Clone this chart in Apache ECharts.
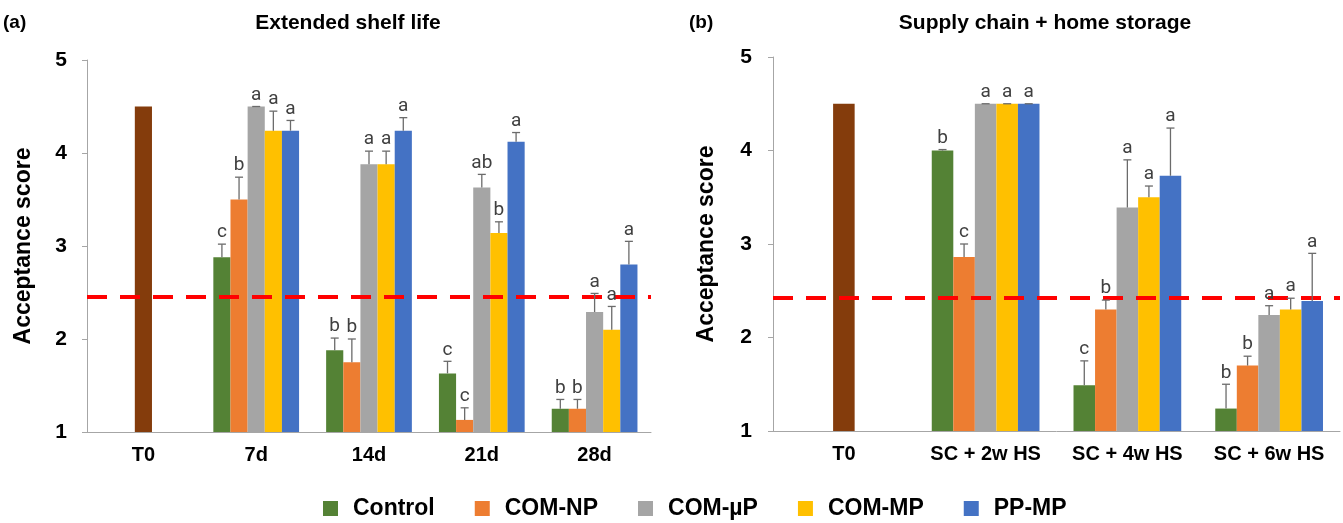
<!DOCTYPE html>
<html><head><meta charset="utf-8">
<script src="https://cdn.jsdelivr.net/npm/echarts@6/dist/echarts.min.js"></script>
<style>html,body{margin:0;padding:0;background:#fff}#c{width:1343px;height:523px}</style>
</head><body><div id="c"></div>
<script>
// ---------- data ----------
const seriesNames = ['Control', 'COM-NP', 'COM-\u00b5P', 'COM-MP', 'PP-MP'];
const seriesColors = ['#548235', '#ED7D31', '#A5A5A5', '#FFC000', '#4472C4'];
const t0Color = '#843C0C';

// Panel (a) Extended shelf life
const categoriesA = ['T0', '7d', '14d', '21d', '28d'];
const t0A = [4.5, '-', '-', '-', '-'];
const controlA = [null, 2.88, 1.88, 1.63, 1.25];
const comNPA   = [null, 3.50, 1.75, 1.13, 1.25];
const comUPA   = [null, 4.50, 3.88, 3.63, 2.29];
const comMPA   = [null, 4.24, 3.88, 3.14, 2.10];
const ppMPA    = [null, 4.24, 4.24, 4.12, 2.80];
const controlErrA = [null, 0.14, 0.13, 0.13, 0.10];
const comNPErrA   = [null, 0.24, 0.25, 0.13, 0.10];
const comUPErrA   = [null, 0.00, 0.14, 0.14, 0.20];
const comMPErrA   = [null, 0.21, 0.14, 0.12, 0.25];
const ppMPErrA    = [null, 0.11, 0.14, 0.10, 0.25];
const controlLetA = ['', 'c', 'b', 'c', 'b'];
const comNPLetA   = ['', 'b', 'b', 'c', 'b'];
const comUPLetA   = ['', 'a', 'a', 'ab', 'a'];
const comMPLetA   = ['', 'a', 'a', 'b', 'a'];
const ppMPLetA    = ['', 'a', 'a', 'a', 'a'];
const thresholdA = 2.45;

// Panel (b) Supply chain + home storage
const categoriesB = ['T0', 'SC + 2w HS', 'SC + 4w HS', 'SC + 6w HS'];
const t0B = [4.5, '-', '-', '-'];
const controlB = [null, 4.00, 1.49, 1.24];
const comNPB   = [null, 2.86, 2.30, 1.70];
const comUPB   = [null, 4.50, 3.39, 2.24];
const comMPB   = [null, 4.50, 3.50, 2.30];
const ppMPB    = [null, 4.50, 3.73, 2.39];
const controlErrB = [null, 0.01, 0.26, 0.26];
const comNPErrB   = [null, 0.14, 0.10, 0.10];
const comUPErrB   = [null, 0.00, 0.51, 0.10];
const comMPErrB   = [null, 0.00, 0.12, 0.12];
const ppMPErrB    = [null, 0.00, 0.51, 0.51];
const controlLetB = ['', 'b', 'c', 'b'];
const comNPLetB   = ['', 'c', 'b', 'b'];
const comUPLetB   = ['', 'a', 'a', 'a'];
const comMPLetB   = ['', 'a', 'a', 'a'];
const ppMPLetB    = ['', 'a', 'a', 'a'];
const thresholdB = 2.42;

const yTicks = [1, 2, 3, 4, 5];

// ---------- build ----------
const GAP = 0.24;
function barSeries(panel, vals, t0, threshold) {
  const out = vals.map((v, s) => ({
    type: 'bar', name: seriesNames[s], xAxisIndex: panel, yAxisIndex: panel,
    data: v.map(x => x == null ? '-' : x), barGap: 0, barCategoryGap: (GAP * 100) + '%',
    stack: s === 2 ? 'mid' + panel : undefined,
    itemStyle: { color: seriesColors[s] },
    markLine: s === 0 ? {
      silent: true, symbol: 'none', label: { show: false },
      lineStyle: { color: '#FF0000', width: 4, type: [20, 13] },
      data: [{ yAxis: threshold }]
    } : undefined
  }));
  out.push({
    type: 'bar', name: 'T0', xAxisIndex: panel, yAxisIndex: panel, data: t0,
    stack: 'mid' + panel, barGap: 0, barCategoryGap: (GAP * 100) + '%',
    itemStyle: { color: t0Color }
  });
  return out;
}
function errSeries(panel, vals, errs, lets) {
  const items = [];
  vals.forEach((arr, s) => arr.forEach((v, c) => {
    if (v == null) return;
    items.push({ c: c, s: s, v: v, t: v + errs[s][c], l: lets[s][c] });
  }));
  return {
    type: 'custom', xAxisIndex: panel, yAxisIndex: panel, z: 10, silent: true,
    data: items.map(it => [it.c, it.t, it.v, it.s]),
    encode: { x: 0, y: 1 },
    renderItem: function (params, api) {
      const it = items[params.dataIndex];
      const band = api.size([1, 0])[0];
      const bw = band * (1 - GAP) / 5;
      const base = api.coord([it.c, it.v]);
      const cx = base[0] - band * (1 - GAP) / 2 + (it.s + 0.5) * bw;
      const yv = base[1];
      const yt = api.coord([it.c, it.t])[1];
      const st = { stroke: '#6b6b6b', lineWidth: 1.3 };
      const children = [];
      if (yv - yt > 0.5) children.push({ type: 'line', shape: { x1: cx, y1: yv, x2: cx, y2: yt }, style: st });
      children.push({ type: 'line', shape: { x1: cx - 4, y1: yt, x2: cx + 4, y2: yt }, style: st });
      children.push({ type: 'text', x: cx, y: yt - 2, style: { text: it.l, fill: '#404040', font: '19px Roboto', align: 'center', verticalAlign: 'bottom' } });
      return { type: 'group', children: children };
    }
  };
}
function yAxis(panel, gap, margin) {
  return {
    type: 'value', gridIndex: panel, min: yTicks[0], max: yTicks[yTicks.length - 1], interval: 1,
    name: 'Acceptance score', nameLocation: 'middle', nameGap: gap,
    nameTextStyle: { fontSize: 23, fontWeight: 'bold', color: '#000', fontFamily: 'Liberation Sans' },
    axisLine: { show: true, lineStyle: { color: '#A6A6A6', width: 1 } },
    axisTick: { show: true, length: 5, lineStyle: { color: '#A6A6A6' } },
    splitLine: { show: false },
    axisLabel: { fontSize: 21, fontWeight: 'bold', color: '#000', margin: margin, fontFamily: 'Liberation Sans' }
  };
}
function xAxis(panel, cats) {
  return {
    type: 'category', gridIndex: panel, data: cats,
    axisLine: { lineStyle: { color: '#A6A6A6', width: 1 } },
    axisTick: { show: false },
    axisLabel: { interval: 0, hideOverlap: false, fontSize: 20, fontWeight: 'bold', color: '#000', margin: 13, fontFamily: 'Liberation Sans' }
  };
}

const valsA = [controlA, comNPA, comUPA, comMPA, ppMPA];
const errsA = [controlErrA, comNPErrA, comUPErrA, comMPErrA, ppMPErrA];
const letsA = [controlLetA, comNPLetA, comUPLetA, comMPLetA, ppMPLetA];
const valsB = [controlB, comNPB, comUPB, comMPB, ppMPB];
const errsB = [controlErrB, comNPErrB, comUPErrB, comMPErrB, ppMPErrB];
const letsB = [controlLetB, comNPLetB, comUPLetB, comMPLetB, ppMPLetB];

const chart = echarts.init(document.getElementById('c'));
chart.setOption({
  animation: false,
  backgroundColor: '#fff',
  textStyle: { fontFamily: 'Liberation Sans' },
  grid: [
    { left: 87, right: 692, top: 60, bottom: 91 },
    { left: 773, right: 3, top: 57, bottom: 92 }
  ],
  xAxis: [xAxis(0, categoriesA), xAxis(1, categoriesB)],
  yAxis: [yAxis(0, 52, 20), yAxis(1, 55, 21)],
  legend: {
    data: seriesNames, left: 318, top: 492, icon: 'rect', itemWidth: 15, itemHeight: 15, itemGap: 40,
    textStyle: { fontSize: 23, fontWeight: 'bold', color: '#000', padding: [0, 0, 0, 10], fontFamily: 'Liberation Sans' }
  },
  graphic: [
    { type: 'text', x: 3, y: 23, style: { text: '(a)', font: 'bold 19px Liberation Sans', fill: '#000', verticalAlign: 'middle' } },
    { type: 'text', x: 348, y: 23, style: { text: 'Extended shelf life', font: 'bold 21px Liberation Sans', fill: '#000', align: 'center', verticalAlign: 'middle' } },
    { type: 'text', x: 689, y: 23, style: { text: '(b)', font: 'bold 19px Liberation Sans', fill: '#000', verticalAlign: 'middle' } },
    { type: 'text', x: 1045, y: 23, style: { text: 'Supply chain + home storage', font: 'bold 21px Liberation Sans', fill: '#000', align: 'center', verticalAlign: 'middle' } }
  ],
  series: [].concat(
    barSeries(0, valsA, t0A, thresholdA), [errSeries(0, valsA, errsA, letsA)],
    barSeries(1, valsB, t0B, thresholdB), [errSeries(1, valsB, errsB, letsB)]
  )
});
</script></body></html>
